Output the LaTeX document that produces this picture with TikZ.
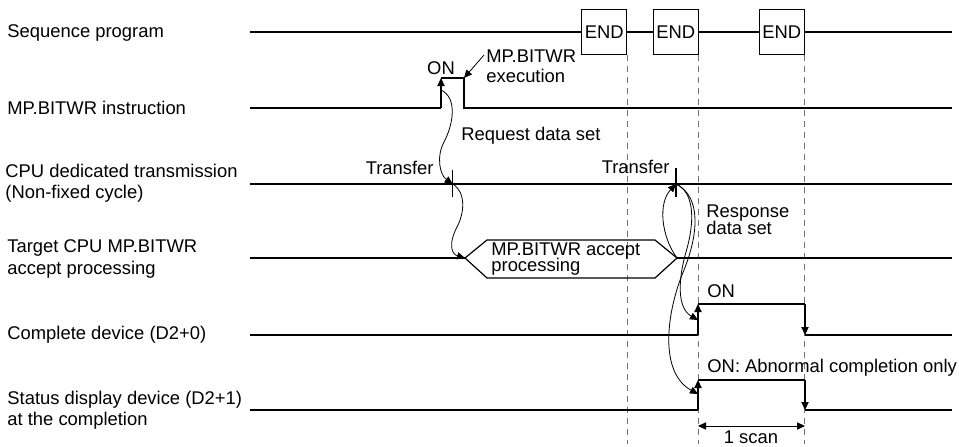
\documentclass[tikz,border=0pt]{standalone}
\usepackage{fontspec}
\setmainfont{Liberation Sans}
\usetikzlibrary{arrows.meta}
\lineskiplimit=-5pt
\begin{document}
\begin{tikzpicture}[x=0.5pt, y=-0.5pt, >={Triangle[length=4pt,width=3.6pt]},
  every node/.style={font=\fontsize{9.2}{10.7}\selectfont, inner sep=0pt},
  lbl/.style={anchor=west, align=left},
  signal/.style={line width=0.6pt},
  wave/.style={line width=0.4pt},
  grid/.style={black!55, line width=0.5pt, dash pattern=on 3pt off 2.5pt},
  endbox/.style={draw, line width=0.6pt, minimum width=22.5pt, minimum height=22.5pt}]
  \useasboundingbox (0,0) rectangle (959,446);

  % row names
  \node[lbl] (nseq) at (7,33) {Sequence program};
  \node[lbl] (nins) at (7,108) {MP.BITWR instruction};
  \node[lbl] (ncpu) at (5,183) {CPU dedicated transmission\\(Non-fixed cycle)};
  \node[lbl] (ntgt) at (7,259) {Target CPU MP.BITWR\\accept processing};
  \node[lbl] (ncmp) at (7,335) {Complete device (D2+0)};
  \node[lbl] (nsts) at (7,410) {Status display device (D2+1)\\at the completion};

  % sequence program
  \coordinate (s0) at (250,32);
  \coordinate (s1) at (952,32);
  \node[endbox] (e1) at (604.2,32) {END};
  \node[endbox] (e2) at (675.8,32) {END};
  \node[endbox] (e3) at (781.8,32) {END};
  \draw[signal] (s0) -- (e1) -- (e2) -- (e3) -- (s1);
  \draw[grid] (e1.south east) -- ++(0,389);
  \draw[grid] (e2.south east) -- ++(0,389);
  \draw[grid] (e3.south east) -- ++(0,389);

  % instruction
  \coordinate (i0) at (250,108);
  \coordinate (ion) at (441,108);
  \coordinate (ionh) at (441,78);
  \coordinate (ioffh) at (464,78);
  \coordinate (ioff) at (464,108);
  \coordinate (i1) at (952,108);
  \draw[signal] (i0) -- (ion) (ionh) -- (ioffh) -- (ioff) -- (i1);
  \draw[signal,->] (ion) -- (ionh);
  \node (lon1) at (441,68) {ON};
  \node[lbl, align=left, font=\fontsize{9.2}{10}\selectfont] (lexe) at (486,66) {MP.BITWR\\execution};
  \coordinate (exe) at (484,55);
  \draw[wave,->] (exe) -- (ioffh);

  % transmission
  \coordinate (c0) at (250,184);
  \coordinate (c1) at (952,184);
  \coordinate (t1) at (452.7,184);
  \coordinate (t2) at (676,184);
  \draw[signal] (c0) -- (c1);
  \draw[signal] (t1) ++(0,-14) -- ++(0,27);
  \draw[signal] (t2) ++(0,-16) -- ++(0,29);
  \node[anchor=east] (ltr1) at (434,168) {Transfer};
  \node[anchor=east] (ltr2) at (670,167) {Transfer};

  % accept processing
  \coordinate (g0) at (250,258);
  \coordinate (g1) at (952,258);
  \coordinate (hl) at (465,258);
  \coordinate (hr) at (677,258);
  \draw[signal] (g0) -- (hl) (hr) -- (g1);
  \draw[signal] (hl) -- (487,240) -- (655,240) -- (hr) -- (655,278) -- (487,278) -- cycle;
  \node[lbl, font=\fontsize{9.2}{7.8}\selectfont] (lacc) at (491,259) {MP.BITWR accept\\processing};

  % complete device
  \coordinate (m0) at (250,335);
  \coordinate (mon) at (698,335);
  \coordinate (monh) at (698,304);
  \coordinate (moffh) at (805,304);
  \coordinate (moff) at (805,335);
  \coordinate (m1) at (952,335);
  \draw[signal] (m0) -- (mon) (monh) -- (moffh) (moff) -- (m1);
  \draw[signal,->] (mon) -- (monh);
  \draw[signal,->] (moffh) -- (moff);
  \node[lbl] (lon2) at (707,291) {ON};

  % status display device
  \coordinate (d0) at (250,410);
  \coordinate (don) at (698,410);
  \coordinate (donh) at (698,380);
  \coordinate (doffh) at (805,380);
  \coordinate (doff) at (805,410);
  \coordinate (d1) at (952,410);
  \draw[signal] (d0) -- (don) (donh) -- (doffh) (doff) -- (d1);
  \draw[signal,->] (don) -- (donh);
  \draw[signal,->] (doffh) -- (doff);
  \node[lbl] (lon3) at (707,368) {ON: Abnormal completion only};

  % data flow
  \coordinate (rq) at (441,90);
  \coordinate (ma) at (698,320);
  \coordinate (da) at (698,394);
  \draw[wave,->] (rq) .. controls (458,98) and (453,125) .. (444,142)
    .. controls (436,157) and (440,175) .. (t1);
  \draw[wave,->] (t1) .. controls (466,192) and (465,213) .. (456,229)
    .. controls (449,243) and (451,254) .. (hl);
  \draw[wave,->] (hr) .. controls (661,236) and (658,203) .. (t2);
  \draw[wave,->] (t2) .. controls (696,193) and (694,225) .. (686,252)
    .. controls (678,280) and (677,308) .. (ma);
  \draw[wave,->] (t2) .. controls (702,197) and (698,235) .. (684,270)
    .. controls (667,310) and (658,372) .. (da);
  \node[lbl] (lreq) at (461,136) {Request data set};
  \node[lbl, font=\fontsize{9.2}{8.5}\selectfont] (lres) at (706,220) {Response\\data set};

  % one scan
  \draw[line width=0.5pt,<->] (mon |- 0,426) -- (moff |- 0,426);
  \node (lscan) at (751,437) {1 scan};
\end{tikzpicture}
\end{document}
